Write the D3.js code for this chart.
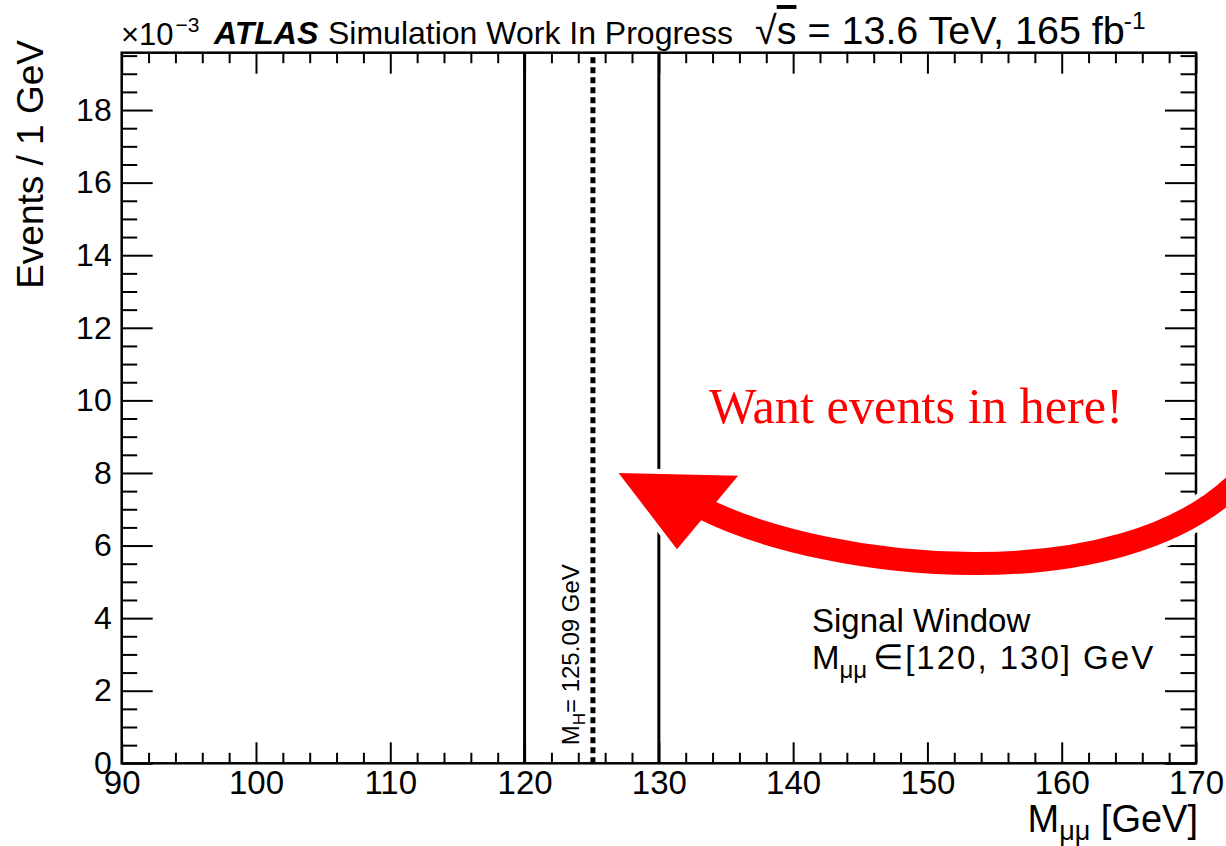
<!DOCTYPE html>
<html><head><meta charset="utf-8">
<script src="https://cdn.jsdelivr.net/npm/d3@7"></script>
<style>
body{margin:0;background:#fff}
svg{display:block}
text{font-family:"Liberation Sans",Arial,Helvetica,sans-serif}
</style>
</head><body>
<svg id="c" width="1226" height="846"></svg>
<script>
// ---- data ----
const xDomain = [90, 170];
const yDomain = [0, 19.58];             // in units of 10^-3 events
const xMajorTicks = [90, 100, 110, 120, 130, 140, 150, 160, 170];
const xMinorStep = 2;
const yMajorTicks = [0, 2, 4, 6, 8, 10, 12, 14, 16, 18];
const yMinorStep = 0.5;
const windowEdges = [120, 130];          // signal window [GeV]
const higgsMass = [125.09];              // M_H [GeV]
// annotation arrow (data coordinates: GeV, 10^-3 events)
const arrowHead = [[127.0, 8.0], [135.9, 7.92], [131.35, 5.9]];
const arrowShaft = [[133.3, 7.02], [142.74, 5.28], [164.34, 4.45], [173.28, 7.81]];

// ---- layout ----
const L = 121.7, R = 1196, T = 52.7, B = 763.3;
const svg = d3.select('#c');
const x = d3.scaleLinear().domain(xDomain).range([L, R]);
const y = d3.scaleLinear().domain(yDomain).range([B, T]);
const FONT = '"Liberation Sans",Arial,Helvetica,sans-serif';

const xMinor = d3.range(xDomain[0], xDomain[1] + 1e-9, xMinorStep).filter(v => !xMajorTicks.includes(v));
const yMinor = d3.range(0, yDomain[1], yMinorStep).filter(v => !yMajorTicks.includes(v));

function styleAxis(g, fs) {
  g.select('.domain').remove();
  g.attr('font-family', FONT).attr('font-size', fs);
  g.selectAll('line').attr('stroke', '#000').attr('stroke-width', 2);
  g.selectAll('text').attr('fill', '#000');
}

// bottom axis
svg.append('g').attr('transform', `translate(0,${B})`)
  .call(d3.axisBottom(x).tickValues(xMajorTicks).tickSize(-21).tickPadding(7).tickFormat(d3.format('d')))
  .call(g => styleAxis(g, 33));
svg.append('g').attr('transform', `translate(0,${B})`)
  .call(d3.axisBottom(x).tickValues(xMinor).tickSize(-10.5).tickFormat(''))
  .call(g => styleAxis(g, 33));
// top axis (mirror ticks)
svg.append('g').attr('transform', `translate(0,${T})`)
  .call(d3.axisTop(x).tickValues(xMajorTicks).tickSize(-21).tickFormat(''))
  .call(g => styleAxis(g, 33));
svg.append('g').attr('transform', `translate(0,${T})`)
  .call(d3.axisTop(x).tickValues(xMinor).tickSize(-10.5).tickFormat(''))
  .call(g => styleAxis(g, 33));
// left axis
svg.append('g').attr('transform', `translate(${L},0)`)
  .call(d3.axisLeft(y).tickValues(yMajorTicks).tickSize(-31).tickPadding(10).tickFormat(d3.format('d')))
  .call(g => styleAxis(g, 32));
svg.append('g').attr('transform', `translate(${L},0)`)
  .call(d3.axisLeft(y).tickValues(yMinor).tickSize(-15.5).tickFormat(''))
  .call(g => styleAxis(g, 32));
// right axis (mirror ticks)
svg.append('g').attr('transform', `translate(${R},0)`)
  .call(d3.axisRight(y).tickValues(yMajorTicks).tickSize(-31).tickFormat(''))
  .call(g => styleAxis(g, 32));
svg.append('g').attr('transform', `translate(${R},0)`)
  .call(d3.axisRight(y).tickValues(yMinor).tickSize(-15.5).tickFormat(''))
  .call(g => styleAxis(g, 32));

// frame
svg.append('rect').attr('x', L).attr('y', T).attr('width', R - L).attr('height', B - T)
  .attr('fill', 'none').attr('stroke', '#000').attr('stroke-width', 2.5);

// signal window lines
svg.selectAll('line.win').data(windowEdges).join('line').attr('class', 'win')
  .attr('x1', d => x(d)).attr('x2', d => x(d)).attr('y1', y(0)).attr('y2', y(yDomain[1]))
  .attr('stroke', '#000').attr('stroke-width', 3);
// Higgs mass dashed line
svg.selectAll('line.mh').data(higgsMass).join('line').attr('class', 'mh')
  .attr('x1', d => x(d)).attr('x2', d => x(d)).attr('y1', y(0)).attr('y2', y(yDomain[1]))
  .attr('stroke', '#000').attr('stroke-width', 5).attr('stroke-dasharray', '6,4');

// M_H label (rotated)
const mhX = x(higgsMass[0]) - 14, mhY = B - 18;
const mh = svg.append('text').attr('transform', `translate(${mhX},${mhY}) rotate(-90)`)
  .attr('font-size', 24).attr('fill', '#000');
mh.append('tspan').text('M');
mh.append('tspan').text('H').attr('font-size', 17).attr('dy', 6);
mh.append('tspan').text('= 125.09 GeV').attr('dy', -6);

// signal window text
svg.append('text').attr('x', 812).attr('y', 632).attr('font-size', 33).attr('fill', '#000').text('Signal Window');
const sw2 = svg.append('text').attr('x', 812).attr('y', 669).attr('font-size', 33).attr('fill', '#000');
sw2.append('tspan').text('M');
sw2.append('tspan').text('μμ').attr('font-size', 24).attr('dy', 9);
sw2.append('tspan').text('∈').attr('font-size', 35).attr('dy', -9).attr('dx', 6);
sw2.append('tspan').text('[120, 130] GeV').attr('dx', 2).style('letter-spacing', '2px');

// axis titles
const xt = svg.append('text').attr('x', R + 2).attr('y', 832).attr('text-anchor', 'end').attr('font-size', 38).attr('fill', '#000');
xt.append('tspan').text('M');
xt.append('tspan').text('μμ').attr('font-size', 27).attr('dy', 8);
xt.append('tspan').text(' [GeV]').attr('dy', -8);

svg.append('text').attr('transform', `translate(43,40) rotate(-90)`).attr('text-anchor', 'end')
  .attr('font-size', 37).attr('fill', '#000').text('Events / 1 GeV');

// header
const hx = svg.append('text').attr('x', 121).attr('y', 45).attr('font-size', 31).attr('fill', '#000');
hx.append('tspan').text('×10');
hx.append('tspan').text('−3').attr('font-size', 21).attr('dy', -13).attr('dx', 2);
svg.append('text').attr('x', 214).attr('y', 44).attr('font-size', 32).attr('font-weight', 'bold')
  .attr('font-style', 'italic').attr('fill', '#000').text('ATLAS');
svg.append('text').attr('x', 328).attr('y', 44).attr('font-size', 32).attr('fill', '#000').text('Simulation Work In Progress');
const rs = svg.append('text').attr('x', 755).attr('y', 44).attr('font-size', 36).attr('fill', '#000');
rs.append('tspan').text('√');
rs.append('tspan').text('s').style('text-decoration', 'overline');
rs.append('tspan').text(' = 13.6 TeV, 165 fb');
const rsW = rs.node().getComputedTextLength();
const rsFs = 36 * 370 / rsW;
rs.attr('font-size', rsFs);
rs.append('tspan').text('-1').attr('font-size', rsFs * 0.62).attr('dy', -rsFs * 0.38).attr('dx', -1);

// red annotation arrow with white outline
const line = d3.line();
const shaftPath = () => {
  const p = arrowShaft.map(d => [x(d[0]), y(d[1])]);
  const path = d3.path();
  path.moveTo(p[0][0], p[0][1]);
  path.bezierCurveTo(p[1][0], p[1][1], p[2][0], p[2][1], p[3][0], p[3][1]);
  return path.toString();
};
const headPts = arrowHead.map(d => [x(d[0]), y(d[1])]);
const arr = svg.append('g');
arr.append('path').attr('d', shaftPath()).attr('fill', 'none').attr('stroke', '#fff').attr('stroke-width', 33);
arr.append('path').attr('d', line(headPts) + 'Z').attr('fill', '#fff').attr('stroke', '#fff').attr('stroke-width', 10).attr('stroke-linejoin', 'round');
arr.append('path').attr('d', shaftPath()).attr('fill', 'none').attr('stroke', '#ff0000').attr('stroke-width', 23);
arr.append('path').attr('d', line(headPts) + 'Z').attr('fill', '#ff0000');

const want = svg.append('text').attr('x', 709).attr('y', 423).attr('font-size', 46)
  .attr('fill', '#ff0000').style('font-family', '"Liberation Serif","DejaVu Serif",serif').text('Want events in here!');
const ww = want.node().getComputedTextLength();
want.attr('font-size', 46 * 414 / ww);
</script>
</body></html>
